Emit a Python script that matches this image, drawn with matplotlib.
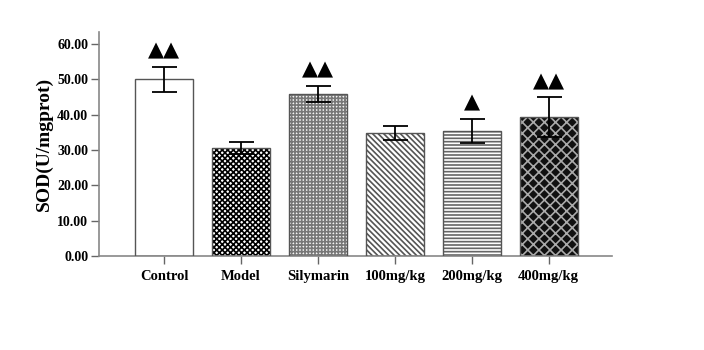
import matplotlib
matplotlib.use("Agg")
from matplotlib import pyplot as plt

groups = ["Control", "Model", "Silymarin", "100mg/kg", "200mg/kg", "400mg/kg"]
sod_mean = [50.0, 30.6, 45.9, 34.7, 35.5, 39.3]
sod_err = [3.6, 1.6, 2.3, 2.0, 3.4, 5.7]
marks = ["\u25b2\u25b2", "", "\u25b2\u25b2", "", "\u25b2", "\u25b2\u25b2"]

# fill styles for each bar: (face, hatch, hatch colour)
styles = [
    ("white", "", "#444444"),
    ("white", "xxxxxx", "black"),
    ("#f4f4f4", "+++++", "#777777"),
    ("white", "\\\\\\\\\\\\", "#555555"),
    ("white", "-----", "#666666"),
    ("#111111", "xxx", "#aaaaaa"),
]

plt.rcParams['font.family'] = ['Liberation Serif', 'DejaVu Serif']
plt.rcParams['hatch.linewidth'] = 1.2

fig = plt.figure(figsize=(7.04, 3.5), dpi=100)
ax = fig.add_axes([0.1413, 0.2686, 0.7277, 0.64])

x = list(range(len(groups)))
for i in x:
    face, hatch, hcol = styles[i]
    ax.bar(i, sod_mean[i], width=0.75, color=face, hatch=hatch,
           edgecolor=hcol, linewidth=0, zorder=2)
    ax.bar(i, sod_mean[i], width=0.75, fill=False,
           edgecolor="#555555", linewidth=1.0, zorder=3)

ax.errorbar(x, sod_mean, yerr=sod_err, fmt="none", ecolor="black",
            elinewidth=1.3, capsize=9, capthick=1.3, zorder=4)

for i in x:
    if marks[i]:
        ax.text(i, sod_mean[i] + sod_err[i] + 2.8, marks[i], ha="center",
                va="baseline", fontsize=15, family=["DejaVu Sans"], zorder=5)

ax.set_xlim(-0.84, 5.82)
ax.set_ylim(0, 63.4)
ax.set_yticks([0, 10, 20, 30, 40, 50, 60])
ax.set_yticklabels(["%.2f" % v for v in [0, 10, 20, 30, 40, 50, 60]],
                   fontsize=10, fontweight="bold")
ax.set_xticks(x)
ax.set_xticklabels(groups, fontsize=10.5, fontweight="bold")
ax.set_ylabel("SOD(U/mgprot)", fontsize=14, fontweight="bold", labelpad=3)

for s in ["top", "right"]:
    ax.spines[s].set_visible(False)
for s in ["left", "bottom"]:
    ax.spines[s].set_color("#888888")
    ax.spines[s].set_linewidth(1.2)
ax.tick_params(axis="both", colors="#666666", length=6, width=1)
ax.tick_params(axis="both", labelcolor="black")
ax.tick_params(axis="x", pad=4)
ax.tick_params(axis="y", pad=2)

plt.savefig("out.png", dpi=100)
